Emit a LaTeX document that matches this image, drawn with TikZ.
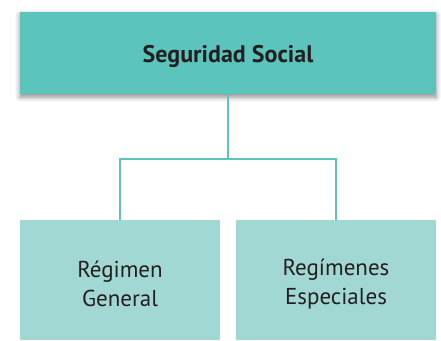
\documentclass[tikz,border=0pt]{standalone}
\usepackage{fontspec}
\setmainfont{PT Sans}
\usetikzlibrary{shadows.blur}
\definecolor{topc}{HTML}{5BC4BC}
\definecolor{botc}{HTML}{A2D8D4}
\definecolor{txt}{HTML}{231F20}
\begin{document}
\begin{tikzpicture}[x=1pt,y=-1pt,
  topbox/.style={fill=topc, draw=none, minimum width=416pt, minimum height=82pt, inner sep=0pt,
    blur shadow={shadow xshift=0pt, shadow yshift=-3pt, shadow blur radius=5pt, shadow opacity=45}},
  botbox/.style={fill=botc, draw=none, minimum width=200pt, minimum height=120pt, inner sep=0pt},
  toptxt/.style={text=txt, font=\fontsize{24}{26}\selectfont\bfseries, inner sep=0pt},
  bottxt/.style={text=txt, align=center, font=\fontsize{23}{29.5}\selectfont, inner sep=0pt},
  conn/.style={draw=topc, line width=2.5pt}]
\useasboundingbox (0,0) rectangle (441,340);
\node[topbox] (top) at (228,53) {};
\node[toptxt] (toplabel) at ([yshift=-3pt]top.center) {Seguridad Social};
\node[botbox] (left) at (120,280) {};
\node[bottxt] (leftlabel) at ([yshift=-4pt]left.center) {Régimen\\General};
\node[botbox] (right) at (336,280) {};
\node[bottxt] (rightlabel) at ([yshift=-4pt]right.center) {Regímenes\\Especiales};
\coordinate (j) at (228,159);
\draw[conn] (top.south) -- (j);
\draw[conn] (left.north) |- (j) -| (right.north);
\end{tikzpicture}
\end{document}
